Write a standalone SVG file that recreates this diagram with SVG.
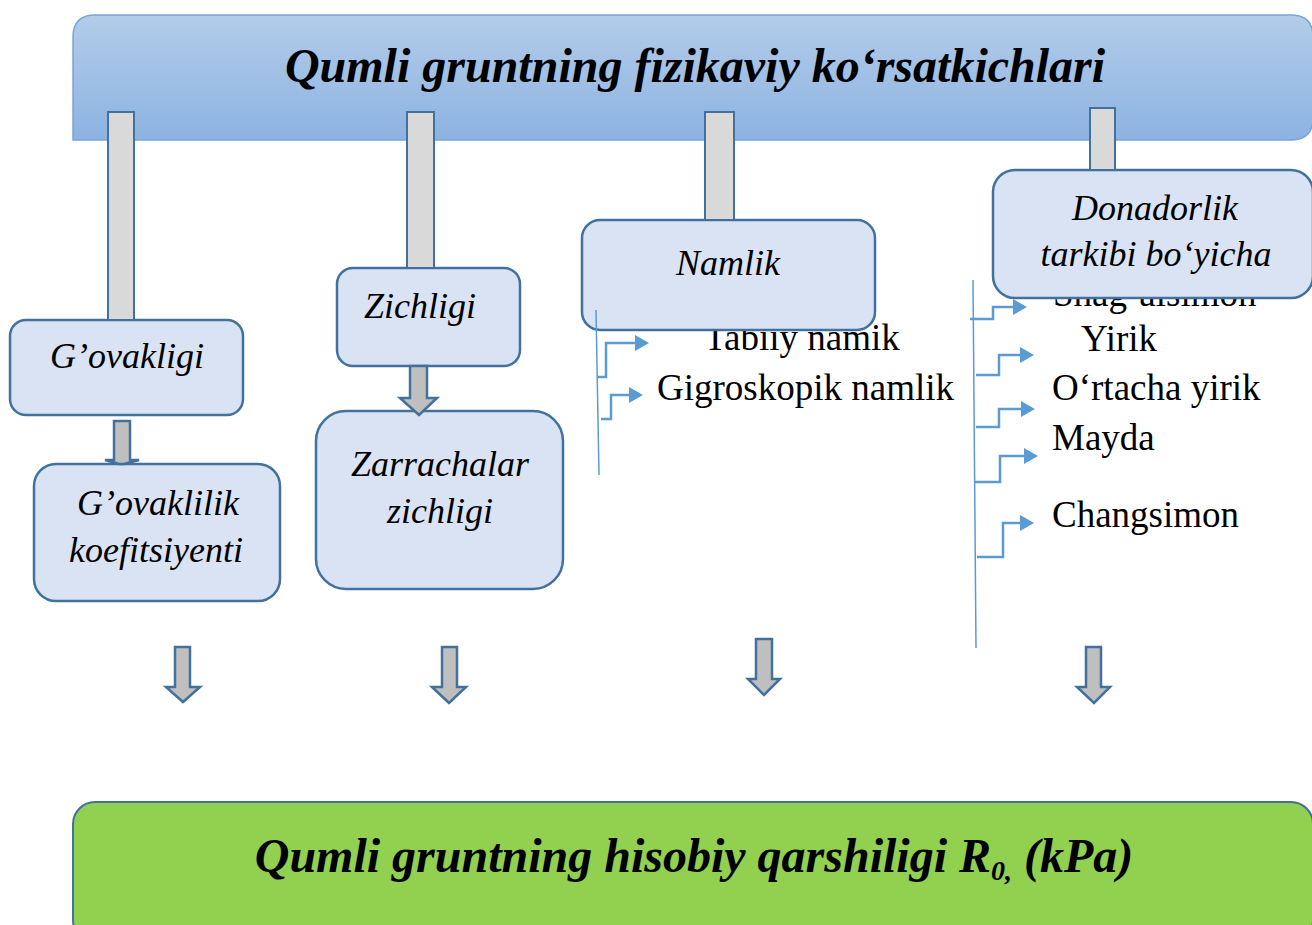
<svg xmlns="http://www.w3.org/2000/svg" width="1312" height="925" viewBox="0 0 1312 925">
<style>
.box{fill:#dae3f3;stroke:#41719c;stroke-width:2.5}
.lbl{font-family:"Liberation Serif","Times New Roman",serif;font-style:italic;font-size:36px;fill:#000;text-anchor:middle}
.lst{font-family:"Liberation Serif","Times New Roman",serif;font-size:37px;fill:#000}
.ttl{font-family:"Liberation Serif","Times New Roman",serif;font-style:italic;font-weight:bold;fill:#000;text-anchor:middle}
.bar{fill:#d9d9d9;stroke:#41719c;stroke-width:2}
.barr{fill:#bfbfbf;stroke:#41719c;stroke-width:2.5;stroke-linejoin:miter}
.elb{fill:none;stroke:#5b9bd5;stroke-width:2.5}
.vline{fill:none;stroke:#5b9bd5;stroke-width:1.5}
</style>
<defs>
<linearGradient id="gTop" x1="0" y1="0" x2="0" y2="1">
<stop offset="0" stop-color="#b3cce9"/>
<stop offset="1" stop-color="#8db3e2"/>
</linearGradient>
<marker id="ah" viewBox="0 0 14 16" refX="0" refY="8" markerWidth="14" markerHeight="16" markerUnits="userSpaceOnUse" orient="auto">
<path d="M0,0 L14,8 L0,16 Z" fill="#5b9bd5"/>
</marker>
</defs>

<g id="header">
<path d="M73,140 L73,37 Q73,15 95,15 L1291,15 Q1313,15 1313,37 L1313,118 Q1313,140 1291,140 Z" fill="url(#gTop)" stroke="#7aa5d6" stroke-width="1.5"/>
<text class="ttl" x="695" y="82" font-size="48">Qumli gruntning fizikaviy ko‘rsatkichlari</text>
</g>

<g id="item-tabiiy"><text class="lst" x="704" y="350">Tabiiy namik</text></g>
<g id="item-gigroskopik"><text class="lst" x="657" y="400">Gigroskopik namlik</text></g>
<g id="item-shagalsimon"><text class="lst" x="1053" y="306">Shag‘alsimon</text></g>
<g id="item-yirik"><text class="lst" x="1081" y="351">Yirik</text></g>
<g id="item-ortacha"><text class="lst" x="1052" y="400">O‘rtacha yirik</text></g>
<g id="item-mayda"><text class="lst" x="1052" y="450">Mayda</text></g>
<g id="item-changsimon"><text class="lst" x="1052" y="527">Changsimon</text></g>

<g id="node-govakligi">
<rect class="box" x="10" y="320" width="233" height="95" rx="16"/>
<text class="lbl" x="127" y="368">G’ovakligi</text>
</g>
<g id="node-zichligi">
<rect class="box" x="337" y="268" width="183" height="98" rx="16"/>
<text class="lbl" x="420" y="318">Zichligi</text>
</g>
<g id="node-namlik">
<rect class="box" x="582" y="220" width="293" height="110" rx="18"/>
<text class="lbl" x="728" y="275">Namlik</text>
</g>
<g id="node-donadorlik">
<rect class="box" x="993" y="170" width="320" height="128" rx="22"/>
<text class="lbl" x="1155" y="220">Donadorlik</text>
<text class="lbl" x="1156" y="266">tarkibi bo‘yicha</text>
</g>
<g id="node-koef">
<rect class="box" x="34" y="464" width="246" height="137" rx="22"/>
<text class="lbl" x="158" y="515">G’ovaklilik</text>
<text class="lbl" x="156" y="562">koefitsiyenti</text>
</g>
<g id="node-zarrachalar">
<rect class="box" x="316" y="411" width="247" height="178" rx="30"/>
<text class="lbl" x="440" y="476">Zarrachalar</text>
<text class="lbl" x="440" y="523">zichligi</text>
</g>

<g id="node-result">
<rect x="73" y="802" width="1240" height="140" rx="22" fill="#92d050" stroke="#41719c" stroke-width="2"/>
<text class="ttl" x="694" y="872" font-size="48">Qumli gruntning hisobiy qarshiligi R<tspan font-size="28" dy="8">0,</tspan><tspan dy="-8"> (kPa)</tspan></text>
</g>

<g id="connectors">
<rect class="bar" x="108" y="112" width="26" height="208"/>
<rect class="bar" x="407" y="112" width="27" height="156"/>
<rect class="bar" x="705" y="112" width="29" height="108"/>
<rect class="bar" x="1090" y="108" width="25" height="62"/>

<path class="barr" d="M114,421 H130 V460 H139 L124,464 L119,464 L105,460 H114 Z"/>
<path class="barr" d="M410,366 H427 V398 H437 L419,415 L400,398 H410 Z"/>

<path class="barr" d="M175,647 H190 V687 H200 L183,702 L166,687 H175 Z"/>
<path class="barr" d="M442,647 H457 V687 H466 L449,703 L432,687 H442 Z"/>
<path class="barr" d="M756,639 H772 V679 H780 L764,695 L748,679 H756 Z"/>
<path class="barr" d="M1086,647 H1101 V687 H1110 L1094,703 L1077,687 H1086 Z"/>

<path class="vline" d="M596,310 L599,475"/>
<path class="elb" d="M597,377 H606 V343 H635" marker-end="url(#ah)"/>
<path class="elb" d="M601,419 H611 V395 H629" marker-end="url(#ah)"/>

<path class="vline" d="M973,280 L976,648"/>
<path class="elb" d="M970,319 H993 V307 H1013" marker-end="url(#ah)"/>
<path class="elb" d="M976,375 H999 V355 H1020" marker-end="url(#ah)"/>
<path class="elb" d="M976,427 H999 V409 H1021" marker-end="url(#ah)"/>
<path class="elb" d="M975,482 H1000 V456 H1024" marker-end="url(#ah)"/>
<path class="elb" d="M977,557 H1003 V523 H1020" marker-end="url(#ah)"/>
</g>
</svg>
